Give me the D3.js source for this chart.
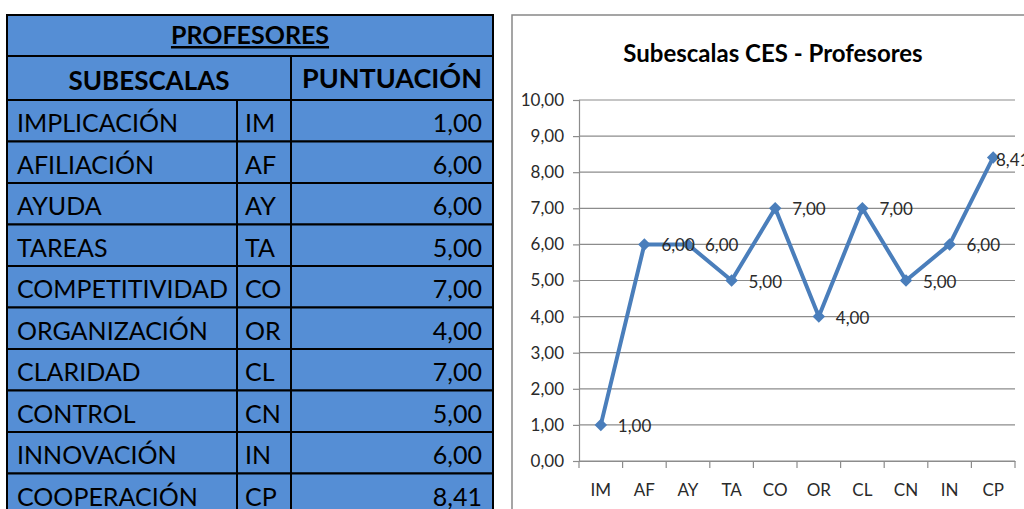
<!DOCTYPE html>
<html>
<head>
<meta charset="utf-8">
<script src="https://cdn.jsdelivr.net/npm/d3@7"></script>
<style>
  body { margin: 0; background: #fff; }
  svg { display: block; }
</style>
</head>
<body>
<div id="chart"></div>
<script>
// table + chart data
var subescalas = ["IMPLICACIÓN", "AFILIACIÓN", "AYUDA", "TAREAS", "COMPETITIVIDAD",
                  "ORGANIZACIÓN", "CLARIDAD", "CONTROL", "INNOVACIÓN", "COOPERACIÓN"];
var codigos = ["IM", "AF", "AY", "TA", "CO", "OR", "CL", "CN", "IN", "CP"];
var puntuacion = [1.00, 6.00, 6.00, 5.00, 7.00, 4.00, 7.00, 5.00, 6.00, 8.41];
var yTicks = [0, 1, 2, 3, 4, 5, 6, 7, 8, 9, 10];

var W = 1024, H = 509;
var fmt = function(v) { return d3.format(".2f")(v).replace(".", ","); };

var svg = d3.select("#chart").append("svg")
    .attr("width", W)
    .attr("height", H);

// ****************** table ***************************
var tFont = "Lato, 'Open Sans', sans-serif";
var blue = "#558ed5";
var colX = [7, 237, 291, 493];
var titleTop = 15, headTop = 56, rowTop = 100, rowH = 41.5;

var table = svg.append("g");

// title row
table.append("rect")
    .attr("x", colX[0]).attr("y", titleTop)
    .attr("width", colX[3] - colX[0]).attr("height", headTop - titleTop)
    .attr("fill", blue).attr("stroke", "#000").attr("stroke-width", 2);
table.append("text")
    .attr("x", (colX[0] + colX[3]) / 2).attr("y", 44)
    .attr("text-anchor", "middle")
    .style("font-family", tFont).style("font-weight", "bold").style("font-size", "25px")
    .style("text-decoration", "underline")
    .text("PROFESORES");

// header row
table.append("rect")
    .attr("x", colX[0]).attr("y", headTop)
    .attr("width", colX[2] - colX[0]).attr("height", rowTop - headTop)
    .attr("fill", blue).attr("stroke", "#000").attr("stroke-width", 2);
table.append("rect")
    .attr("x", colX[2]).attr("y", headTop)
    .attr("width", colX[3] - colX[2]).attr("height", rowTop - headTop)
    .attr("fill", blue).attr("stroke", "#000").attr("stroke-width", 2);
table.append("text")
    .attr("x", (colX[0] + colX[2]) / 2).attr("y", 90)
    .attr("text-anchor", "middle")
    .style("font-family", tFont).style("font-weight", "bold").style("font-size", "26px")
    .text("SUBESCALAS");
table.append("text")
    .attr("x", (colX[2] + colX[3]) / 2).attr("y", 88)
    .attr("text-anchor", "middle")
    .style("font-family", tFont).style("font-weight", "bold").style("font-size", "27px")
    .text("PUNTUACIÓN");

// data rows
var rows = table.selectAll("g.row")
    .data(subescalas.map(function(d, i) { return {name: d, code: codigos[i], val: puntuacion[i]}; }))
    .enter().append("g")
    .attr("class", "row")
    .attr("transform", function(d, i) { return "translate(0," + (rowTop + i * rowH) + ")"; });

[0, 1, 2].forEach(function(c) {
  rows.append("rect")
      .attr("x", colX[c]).attr("y", 0)
      .attr("width", colX[c + 1] - colX[c]).attr("height", rowH)
      .attr("fill", blue).attr("stroke", "#000").attr("stroke-width", 2);
});

rows.append("text")
    .attr("x", 17).attr("y", 32)
    .style("font-family", tFont).style("font-size", "25px")
    .text(function(d) { return d.name; });
rows.append("text")
    .attr("x", 245).attr("y", 32)
    .style("font-family", tFont).style("font-size", "25px")
    .text(function(d) { return d.code; });
rows.append("text")
    .attr("x", 482).attr("y", 32)
    .attr("text-anchor", "end")
    .style("font-family", tFont).style("font-size", "25px")
    .text(function(d) { return fmt(d.val); });

// ****************** chart ***************************
var cFont = "Lato, 'Open Sans', sans-serif";
var lineColor = "#4a7ebb";
var textColor = "#2a2a2a";

svg.append("rect")
    .attr("x", 512).attr("y", 15)
    .attr("width", 600).attr("height", 600)
    .attr("fill", "#fff").attr("stroke", "#888").attr("stroke-width", 1.5);

svg.append("text")
    .attr("x", 773).attr("y", 62)
    .attr("text-anchor", "middle")
    .style("font-family", cFont).style("font-weight", "bold").style("font-size", "24px")
    .attr("fill", "#000")
    .text("Subescalas CES - Profesores");

var plot = {left: 579, right: 1015, top: 100, bottom: 461};

var x = d3.scaleBand()
    .domain(codigos)
    .range([plot.left, plot.right]);

var y = d3.scaleLinear()
    .domain([0, 10])
    .range([plot.bottom, plot.top]);

// gridlines
svg.append("g")
  .selectAll("line")
  .data(yTicks)
  .enter().append("line")
    .attr("x1", plot.left).attr("x2", plot.right)
    .attr("y1", function(d) { return y(d); })
    .attr("y2", function(d) { return y(d); })
    .attr("stroke", "#8c8c8c").attr("stroke-width", 1.2);

// y axis
var yAxis = svg.append("g")
    .attr("transform", "translate(" + plot.left + ",0)")
    .call(d3.axisLeft(y).tickValues(yTicks).tickSize(6).tickPadding(9).tickFormat(fmt));
yAxis.select(".domain").attr("stroke", "#8c8c8c").attr("stroke-width", 1.2);
yAxis.selectAll(".tick line").attr("stroke", "#8c8c8c").attr("stroke-width", 1.2);
yAxis.selectAll("text")
    .style("font-family", cFont).style("font-size", "17px").attr("fill", textColor);

// x axis
var xAxis = svg.append("g")
    .attr("transform", "translate(0," + plot.bottom + ")")
    .call(d3.axisBottom(x).tickSize(0).tickPadding(23));
xAxis.select(".domain").attr("stroke", "#8c8c8c").attr("stroke-width", 1.2);
xAxis.selectAll("text")
    .style("font-family", cFont).style("font-size", "17px").attr("fill", textColor);
// category boundary ticks
svg.append("g")
  .selectAll("line")
  .data(codigos.concat(["end"]))
  .enter().append("line")
    .attr("x1", function(d, i) { return plot.left + i * x.step(); })
    .attr("x2", function(d, i) { return plot.left + i * x.step(); })
    .attr("y1", plot.bottom).attr("y2", plot.bottom + 7)
    .attr("stroke", "#8c8c8c").attr("stroke-width", 1.2);

// line
var cx = function(i) { return x(codigos[i]) + x.bandwidth() / 2; };
var line = d3.line()
    .x(function(d, i) { return cx(i); })
    .y(function(d) { return y(d); });

svg.append("path")
    .datum(puntuacion)
    .attr("d", line)
    .attr("fill", "none")
    .attr("stroke", lineColor)
    .attr("stroke-width", 4)
    .attr("stroke-linejoin", "round");

// diamond markers
svg.append("g")
  .selectAll("path")
  .data(puntuacion)
  .enter().append("path")
    .attr("d", d3.symbol().type(d3.symbolDiamond2).size(100))
    .attr("transform", function(d, i) {
        return "translate(" + cx(i) + "," + y(d) + ")";
    })
    .attr("fill", lineColor);

// value labels (pushed back in when they would run off the right edge)
svg.append("g")
  .selectAll("text")
  .data(puntuacion)
  .enter().append("text")
    .attr("x", function(d, i) { return Math.min(cx(i) + 17, W - 28); })
    .attr("y", function(d, i) { return y(d) + (cx(i) + 17 > W - 28 ? 9 : 7); })
    .style("font-family", cFont).style("font-size", "17px")
    .attr("fill", textColor)
    .text(function(d) { return fmt(d); });
</script>
</body>
</html>
